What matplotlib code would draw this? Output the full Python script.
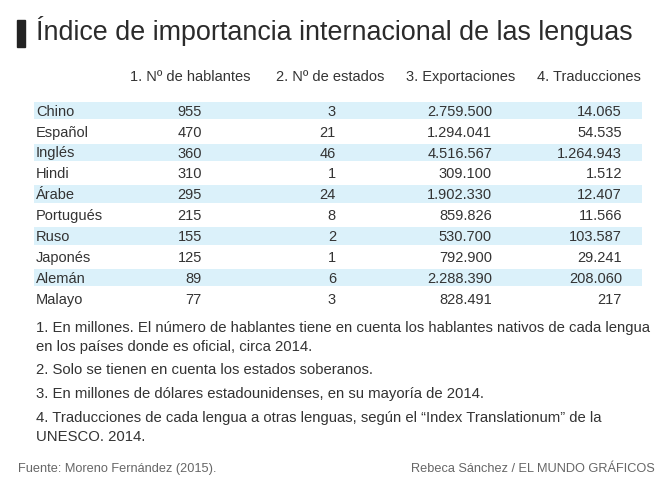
import matplotlib
matplotlib.use("Agg")
import matplotlib.pyplot as plt
import matplotlib.patches as mpatches

# data
languages = ['Chino', 'Español', 'Inglés', 'Hindi', 'Árabe',
             'Portugués', 'Ruso', 'Japonés', 'Alemán', 'Malayo']
hablantes = ['955', '470', '360', '310', '295', '215', '155', '125', '89', '77']
estados = ['3', '21', '46', '1', '24', '8', '2', '1', '6', '3']
exportaciones = ['2.759.500', '1.294.041', '4.516.567', '309.100', '1.902.330',
                 '859.826', '530.700', '792.900', '2.288.390', '828.491']
traducciones = ['14.065', '54.535', '1.264.943', '1.512', '12.407',
                '11.566', '103.587', '29.241', '208.060', '217']
headers = ['1. Nº de hablantes', '2. Nº de estados', '3. Exportaciones', '4. Traducciones']

title = 'Índice de importancia internacional de las lenguas'
notes = [
    '1. En millones. El número de hablantes tiene en cuenta los hablantes nativos de cada lengua\nen los países donde es oficial, circa 2014.',
    '2. Solo se tienen en cuenta los estados soberanos.',
    '3. En millones de dólares estadounidenses, en su mayoría de 2014.',
    '4. Traducciones de cada lengua a otras lenguas, según el “Index Translationum” de la\nUNESCO. 2014.',
]
source = 'Fuente: Moreno Fernández (2015).'
credit = 'Rebeca Sánchez / EL MUNDO GRÁFICOS'

plt.rcParams['font.family'] = ['Liberation Sans', 'DejaVu Sans']
txt = '#333333'
shade = '#dbf1fa'

fig = plt.figure(figsize=(6.61, 4.78), dpi=100)
ax = fig.add_axes([0, 0, 1, 1])
ax.set_xlim(0, 661)
ax.set_ylim(478, 0)
ax.axis('off')

# title
ax.add_patch(mpatches.Rectangle((17, 20), 8, 27, color='#222222'))
ax.text(36, 40, title, fontsize=19.4, color='#2b2b2b', va='baseline', ha='left')

# header row
header_right = [250, 384, 515, 641]
for h, xr in zip(headers, header_right):
    ax.text(xr, 81, h, fontsize=10.5, color=txt, ha='right', va='baseline')

# rows
row0, pitch = 110.5, 20.9
ys = [row0 + i * pitch for i in range(len(languages))]
band_y = [y for i, y in enumerate(ys) if i % 2 == 0]
ax.barh(band_y, [608] * len(band_y), left=34, height=17.5, color=shade, zorder=0)

cols = [hablantes, estados, exportaciones, traducciones]
col_right = [202, 336, 492, 622]
for i, y in enumerate(ys):
    ax.text(36, y + 5.2, languages[i], fontsize=10.5, color=txt, ha='left', va='baseline')
    for col, xr in zip(cols, col_right):
        ax.text(xr, y + 5.2, col[i], fontsize=10.5, color=txt, ha='right', va='baseline')

# notes
note_base = [332, 374, 398, 422]
for n, yb in zip(notes, note_base):
    for k, line in enumerate(n.split('\n')):
        ax.text(36, yb + k * 19, line, fontsize=10.7, color=txt, ha='left', va='baseline')

ax.text(18, 472, source, fontsize=9.2, color='#666666', ha='left', va='baseline')
ax.text(655, 472, credit, fontsize=9.2, color='#666666', ha='right', va='baseline')

fig.savefig('out.png', dpi=100, facecolor='white')
